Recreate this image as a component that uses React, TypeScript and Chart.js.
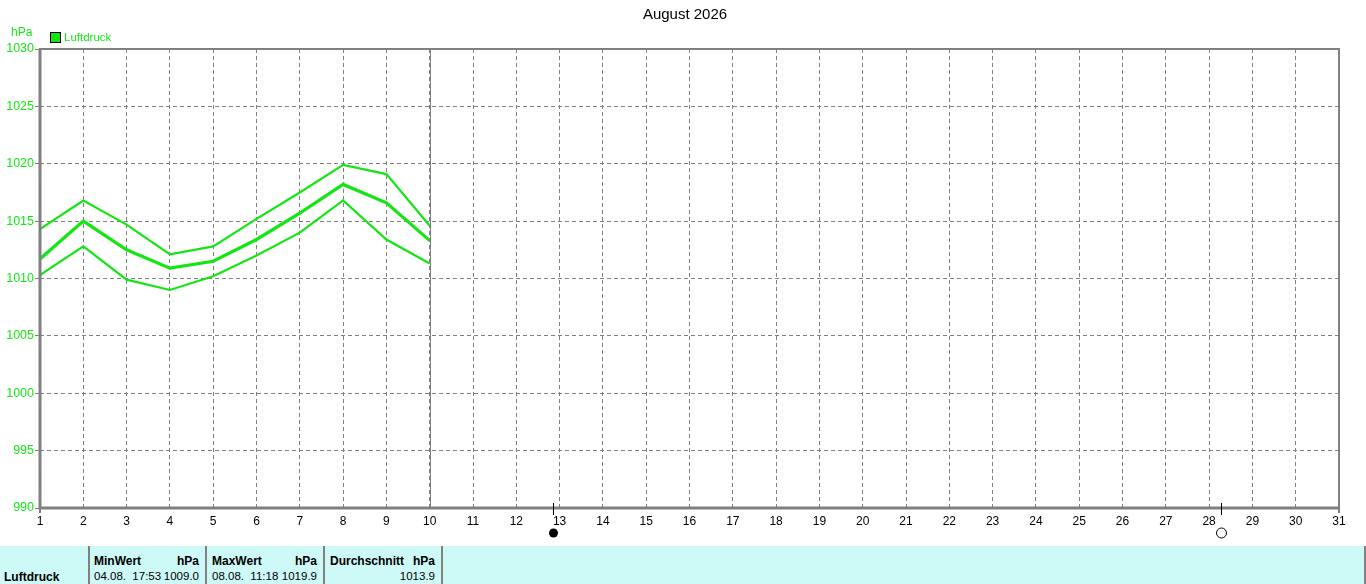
import React, { useEffect, useRef } from "react";
import { Chart, registerables } from "chart.js";

Chart.register(...registerables);

const days = [1, 2, 3, 4, 5, 6, 7, 8, 9, 10];
const maxValues = [1014.3, 1016.8, 1014.7, 1012.1, 1012.8, 1015.2, 1017.5, 1019.9, 1019.1, 1014.6];
const avgValues = [1011.7, 1015.0, 1012.5, 1010.9, 1011.5, 1013.4, 1015.7, 1018.2, 1016.6, 1013.3];
const minValues = [1010.3, 1012.8, 1009.9, 1009.0, 1010.2, 1012.0, 1014.0, 1016.8, 1013.4, 1011.3];
const currentDay = 10;
const newMoonDay = 12.85;
const fullMoonDay = 28.27;
const title = "August 2026";
const seriesName = "Luftdruck";
const unit = "hPa";

const GREEN = "#14e614";
const GRAY = "#808080";
const FONT = "'Liberation Sans', Arial, sans-serif";

const overlay = {
  id: "overlay",
  beforeDraw(chart: any) {
    const ctx = chart.ctx;
    ctx.save();
    ctx.fillStyle = "#ffffff";
    ctx.fillRect(0, 0, chart.width, chart.height);
    ctx.restore();
  },
  afterDraw(chart: any) {
    const ctx = chart.ctx;
    const { left, right, top, bottom } = chart.chartArea;
    const xs = chart.scales.x;
    ctx.save();
    ctx.fillStyle = "#000";
    ctx.font = `15px ${FONT}`;
    ctx.textAlign = "center";
    ctx.textBaseline = "middle";
    ctx.fillText(title, 685, 15);
    ctx.fillStyle = GREEN;
    ctx.font = `12px ${FONT}`;
    ctx.textAlign = "left";
    ctx.fillText(unit, 11, 33);
    ctx.fillStyle = GREEN;
    ctx.fillRect(50.5, 32.5, 10, 10);
    ctx.strokeStyle = "#000";
    ctx.lineWidth = 1;
    ctx.strokeRect(50.5, 32.5, 10, 10);
    ctx.fillStyle = GREEN;
    ctx.font = `11.5px ${FONT}`;
    ctx.fillText(seriesName, 64, 38);
    const cx = Math.round(xs.getPixelForValue(currentDay)) + 0.5;
    ctx.strokeStyle = GRAY;
    ctx.lineWidth = 1;
    ctx.beginPath();
    ctx.moveTo(cx, top);
    ctx.lineTo(cx, bottom);
    ctx.stroke();
    ctx.lineWidth = 2;
    ctx.strokeStyle = GRAY;
    ctx.strokeRect(left, top, right - left, bottom - top);
    ctx.lineWidth = 3;
    ctx.beginPath();
    ctx.moveTo(left, top);
    ctx.lineTo(left, bottom);
    ctx.lineTo(right, bottom);
    ctx.stroke();
    ctx.lineWidth = 2;
    ctx.beginPath();
    ctx.moveTo(left, bottom);
    ctx.lineTo(left, bottom + 5);
    ctx.moveTo(right, bottom);
    ctx.lineTo(right, bottom + 5);
    ctx.stroke();
    const nx = Math.round(xs.getPixelForValue(newMoonDay)) + 0.5;
    const fx = Math.round(xs.getPixelForValue(fullMoonDay)) + 0.5;
    ctx.strokeStyle = "#000";
    ctx.lineWidth = 1;
    ctx.beginPath();
    ctx.moveTo(nx, bottom - 5);
    ctx.lineTo(nx, bottom + 7);
    ctx.moveTo(fx, bottom - 5);
    ctx.lineTo(fx, bottom + 7);
    ctx.stroke();
    ctx.fillStyle = "#000";
    ctx.beginPath();
    ctx.arc(nx, 533, 4.5, 0, Math.PI * 2);
    ctx.fill();
    ctx.beginPath();
    ctx.arc(fx, 533, 5, 0, Math.PI * 2);
    ctx.stroke();
    ctx.restore();
  },
};

export default function App() {
  const ref = useRef<HTMLCanvasElement | null>(null);
  useEffect(() => {
    if (!ref.current) return;
    const line = (data: number[], w: number) => ({
      data: days.map((d, i) => ({ x: d, y: data[i] })),
      borderColor: GREEN,
      backgroundColor: GREEN,
      borderWidth: w,
      pointRadius: 0,
      tension: 0,
      fill: false,
    });
    const chart = new Chart(ref.current, {
      type: "line",
      data: {
        datasets: [line(maxValues, 2.2), line(avgValues, 3.2), line(minValues, 2.2)],
      },
      options: {
        animation: false,
        responsive: false,
        devicePixelRatio: 1,
        layout: { padding: { left: 0, right: 27, top: 49, bottom: 0 } },
        plugins: { legend: { display: false }, title: { display: false }, tooltip: { enabled: false } },
        scales: {
          x: {
            type: "linear",
            min: 1,
            max: 31,
            afterFit: (s: any) => {
              s.height = 38;
            },
            ticks: {
              stepSize: 1,
              autoSkip: false,
              maxRotation: 0,
              color: "#000",
              font: { family: FONT, size: 12 },
              padding: 6,
              callback: (v: any) => String(v),
            },
            grid: { color: GRAY, lineWidth: 1, drawTicks: false },
            border: { display: false, dash: [4, 3] },
          },
          y: {
            min: 990,
            max: 1030,
            afterFit: (s: any) => {
              s.width = 40;
            },
            ticks: {
              stepSize: 5,
              color: GREEN,
              font: { family: FONT, size: 12.5 },
              padding: 1,
              callback: (v: any) => String(v),
            },
            grid: { color: GRAY, lineWidth: 1, tickLength: 5, tickColor: GRAY },
            border: { display: false, dash: [4, 3] },
          },
        },
      } as any,
      plugins: [overlay],
    });
    return () => chart.destroy();
  }, []);

  const cell: React.CSSProperties = {
    position: "absolute",
    top: 0,
    height: 38,
    borderRight: `2px solid ${GRAY}`,
    boxSizing: "border-box",
    fontFamily: FONT,
    fontSize: 12,
  };
  const hdr: React.CSSProperties = { position: "absolute", top: 8, fontWeight: "bold", whiteSpace: "pre" };
  const val: React.CSSProperties = { position: "absolute", top: 24, fontSize: 11.5, whiteSpace: "pre" };

  return (
    <div style={{ position: "fixed", left: 0, top: 0, width: 1366, height: 584, background: "#fff", overflow: "hidden" }}>
      <canvas ref={ref} width={1366} height={546} style={{ display: "block", width: 1366, height: 546 }} />
      <div style={{ position: "absolute", left: 0, top: 546, width: 1366, height: 38, background: "#cdf9f7" }}>
        <div style={{ ...cell, left: 0, width: 90 }}>
          <span style={{ ...val, left: 4, fontWeight: "bold", fontSize: 12 }}>{seriesName}</span>
        </div>
        <div style={{ ...cell, left: 90, width: 117 }}>
          <span style={{ ...hdr, left: 4 }}>MinWert</span>
          <span style={{ ...hdr, right: 6 }}>{unit}</span>
          <span style={{ ...val, left: 4 }}>04.08.  17:53</span>
          <span style={{ ...val, right: 6 }}>1009.0</span>
        </div>
        <div style={{ ...cell, left: 207, width: 118 }}>
          <span style={{ ...hdr, left: 5 }}>MaxWert</span>
          <span style={{ ...hdr, right: 6 }}>{unit}</span>
          <span style={{ ...val, left: 5 }}>08.08.  11:18</span>
          <span style={{ ...val, right: 6 }}>1019.9</span>
        </div>
        <div style={{ ...cell, left: 325, width: 118 }}>
          <span style={{ ...hdr, left: 5 }}>Durchschnitt</span>
          <span style={{ ...hdr, right: 6 }}>{unit}</span>
          <span style={{ ...val, right: 6 }}>1013.9</span>
        </div>
        <div style={{ ...cell, left: 443, width: 923 }} />
      </div>
    </div>
  );
}
